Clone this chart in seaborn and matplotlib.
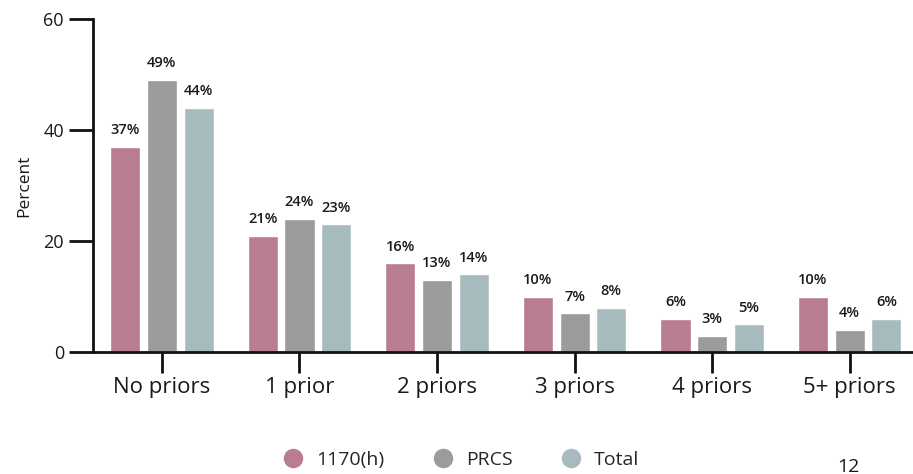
import numpy as np
import pandas as pd
import matplotlib
matplotlib.use("Agg")
import matplotlib.pyplot as plt
import seaborn as sns
from matplotlib.lines import Line2D

# ============================================================
# Data
# ============================================================

categories = ["No priors", "1 prior", "2 priors", "3 priors", "4 priors", "5+ priors"]
series_names = ["1170(h)", "PRCS", "Total"]
vals_1170h = [37, 21, 16, 10, 6, 10]
vals_prcs = [49, 24, 13, 7, 3, 4]
vals_total = [44, 23, 14, 8, 5, 6]
y_ticks = [0, 20, 40, 60]

colors = ["#b87d90", "#9b9b9b", "#a7bbbf"]

df = pd.DataFrame({
    "Category": categories * 3,
    "Group": [s for s in series_names for _ in categories],
    "Percent": vals_1170h + vals_prcs + vals_total,
})

# ============================================================
# Plot
# ============================================================

sns.set_style("white")
plt.rcParams["font.family"] = ["Open Sans", "DejaVu Sans"]

fig = plt.figure(figsize=(9.13, 4.74), dpi=100)
ax = fig.add_axes([0.102, 0.257, 0.898, 0.703])

sns.barplot(
    data=df, x="Category", y="Percent", hue="Group",
    order=categories, hue_order=series_names,
    palette=colors, width=0.8, gap=0.18, saturation=1,
    legend=False, ax=ax,
)

for cont in ax.containers:
    ax.bar_label(cont, fmt="%d%%", padding=7, fontsize=10.5,
                 fontweight="semibold", color="#1a1a1a")

ax.set_ylim(0, 60)
ax.set_xlim(-0.5, 5.46)
ax.set_yticks(y_ticks)
ax.set_xlabel("")
ax.set_ylabel("Percent", fontsize=12.5, color="#1a1a1a", labelpad=8)

sns.despine(ax=ax, top=True, right=True)
for side in ["left", "bottom"]:
    ax.spines[side].set_linewidth(2)
    ax.spines[side].set_color("#111111")

ax.tick_params(axis="y", left=True, direction="out", length=17, width=2,
               labelsize=13, colors="#111111", pad=4)
ax.tick_params(axis="x", bottom=True, direction="out", length=15, width=2,
               labelsize=16, colors="#111111", pad=3)
for lbl in ax.get_xticklabels() + ax.get_yticklabels():
    lbl.set_color("#1a1a1a")

# ============================================================
# Legend
# ============================================================

handles = [
    Line2D([0], [0], marker="o", linestyle="", markersize=13,
           markerfacecolor=c, markeredgecolor=c)
    for c in colors
]
fig.legend(handles, series_names, loc="center", bbox_to_anchor=(0.5, 0.03),
           ncol=3, frameon=False, fontsize=14, handletextpad=0.2,
           columnspacing=2.0)

fig.text(0.917, 0.005, "12", fontsize=14, color="#1a1a1a")

plt.savefig("out.png", dpi=100)
plt.close()
